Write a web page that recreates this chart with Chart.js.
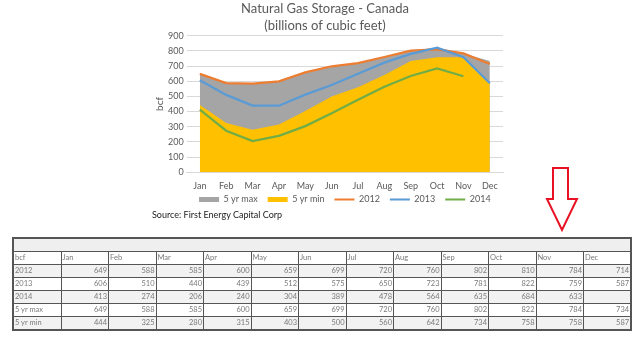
<!DOCTYPE html>
<html>
<head>
<meta charset="utf-8">
<title>Natural Gas Storage - Canada</title>
<script src="https://cdn.jsdelivr.net/npm/chart.js@4.4.0/dist/chart.umd.min.js"></script>
<style>
  body { margin: 0; width: 640px; height: 338px; overflow: hidden; position: relative; background: #fff; font-family: Lato, "Open Sans", sans-serif; }
  #wrap { position: absolute; left: 140px; top: 0; width: 380px; height: 220px; }
  #source { position: absolute; left: 152px; top: 209px; font-size: 9px; color: #222; }
  #arrow { position: absolute; left: 0; top: 0; }
  table { position: absolute; left: 12px; top: 237px; width: 618px; border-collapse: collapse; table-layout: fixed; font-size: 7.5px; color: #7a7a7a; border: 2px solid #555; }
  td { border: 1.5px solid #555; height: 12px; padding: 0 1px; line-height: 12px; white-space: nowrap; overflow: hidden; }
  td.num { text-align: right; }
  tr.band td { background: #efefef; }
  tr.alt td { background: #f2f2f2; }
</style>
</head>
<body>
<div id="wrap"><canvas id="storage"></canvas></div>
<div id="source">Source: First Energy Capital Corp</div>
<svg id="arrow" width="640" height="338">
  <polygon points="553,168 568,168 568,199 577,199 562,230 547,199 553,199" fill="#fff" stroke="#e81123" stroke-width="2" stroke-linejoin="miter"/>
</svg>
<table id="tbl"></table>

<script>
const months = ['Jan', 'Feb', 'Mar', 'Apr', 'May', 'Jun', 'Jul', 'Aug', 'Sep', 'Oct', 'Nov', 'Dec'];
const y2012 = [649, 588, 585, 600, 659, 699, 720, 760, 802, 810, 784, 714];
const y2013 = [606, 510, 440, 439, 512, 575, 650, 723, 781, 822, 759, 587];
const y2014 = [413, 274, 206, 240, 304, 389, 478, 564, 635, 684, 633];
const max5 = [649, 588, 585, 600, 659, 699, 720, 760, 802, 822, 784, 734];
const min5 = [444, 325, 280, 315, 403, 500, 560, 642, 734, 758, 758, 587];

const textGrey = '#595959';

// legend centred under the plot area and pulled up a little; title nudged left
const placeBlocks = {
  id: 'placeBlocks',
  afterLayout(chart) {
    const lg = chart.legend;
    const shift = (chart.chartArea.left + chart.chartArea.right) / 2 - (lg.left + lg.right) / 2;
    lg.left += shift;
    lg.right += shift;
    lg.top -= 6;
    lg.bottom -= 6;
    chart.titleBlock.left -= 4;
    chart.titleBlock.right -= 4;
  }
};

function lineSet(label, data, color) {
  return { label: label, data: data, borderColor: color, backgroundColor: color, borderWidth: 2.25,
           fill: false, pointRadius: 0, tension: 0 };
}

const ctx = document.getElementById('storage').getContext('2d');
new Chart(ctx, {
  type: 'line',
  data: {
    labels: months,
    datasets: [
      { label: '5 yr max', data: max5, backgroundColor: '#a5a5a5', borderColor: 'rgba(0,0,0,0)', borderWidth: 0, fill: 'origin', pointRadius: 0, order: 5 },
      { label: '5 yr min', data: min5, backgroundColor: '#ffc000', borderColor: 'rgba(0,0,0,0)', borderWidth: 0, fill: 'origin', pointRadius: 0, order: 4 },
      Object.assign(lineSet('2012', y2012, '#ed7d31'), { order: 3 }),
      Object.assign(lineSet('2013', y2013, '#5b9bd5'), { order: 2 }),
      Object.assign(lineSet('2014', y2014, '#70ad47'), { order: 1 })
    ]
  },
  options: {
    responsive: true,
    maintainAspectRatio: false,
    animation: false,
    layout: { padding: { left: 15, right: 17, top: 0, bottom: 0 } },
    plugins: {
      tooltip: { enabled: false },
      title: {
        display: true,
        text: ['Natural Gas Storage - Canada', '(billions of cubic feet)'],
        color: textGrey,
        font: { family: 'Lato', size: 13, weight: 'normal', lineHeight: 1.3 },
        padding: { top: 0, bottom: 2 }
      },
      legend: {
        position: 'bottom',
        labels: {
          color: textGrey,
          font: { family: 'Lato', size: 9 },
          usePointStyle: true,
          pointStyleWidth: 20,
          boxHeight: 5,
          padding: 10,
          sort: (a, b) => a.datasetIndex - b.datasetIndex,
          generateLabels(chart) {
            const items = Chart.defaults.plugins.legend.labels.generateLabels(chart);
            items.forEach(it => {
              const ds = chart.data.datasets[it.datasetIndex];
              if (ds.fill) {
                it.pointStyle = 'rect';
                it.fillStyle = ds.backgroundColor;
                it.lineWidth = 0;
              } else {
                it.pointStyle = 'line';
                it.strokeStyle = ds.borderColor;
                it.lineWidth = 2;
              }
            });
            return items;
          }
        }
      }
    },
    scales: {
      x: {
        offset: true,
        grid: { display: false },
        border: { display: true, color: '#d9d9d9' },
        ticks: { color: textGrey, font: { family: 'Lato', size: 9 }, padding: 0, maxRotation: 0, autoSkip: false }
      },
      y: {
        min: 0,
        max: 900,
        ticks: { stepSize: 100, color: textGrey, font: { family: 'Lato', size: 9 }, padding: 3, autoSkip: false },
        grid: { color: '#d9d9d9', drawTicks: false },
        border: { display: false },
        title: { display: true, text: 'bcf', color: textGrey, font: { family: 'Lato', size: 10, lineHeight: 1 }, padding: 0 }
      }
    }
  },
  plugins: [placeBlocks]
});

// data table under the chart
const rows = [['2012', y2012], ['2013', y2013], ['2014', y2014], ['5 yr max', max5], ['5 yr min', min5]];
const tbl = document.getElementById('tbl');
let html = '<colgroup><col style="width:48px">' + months.map(() => '<col style="width:47.5px">').join('') + '</colgroup>';
html += '<tr class="band"><td colspan="13"></td></tr>';
html += '<tr><td>bcf</td>' + months.map(m => '<td>' + m + '</td>').join('') + '</tr>';
rows.forEach((r, i) => {
  html += '<tr' + (i % 2 === 0 ? ' class="alt"' : '') + '><td>' + r[0] + '</td>' +
    months.map((m, j) => '<td class="num">' + (r[1][j] !== undefined ? r[1][j] : '') + '</td>').join('') + '</tr>';
});
tbl.innerHTML = html;
</script>
</body>
</html>
